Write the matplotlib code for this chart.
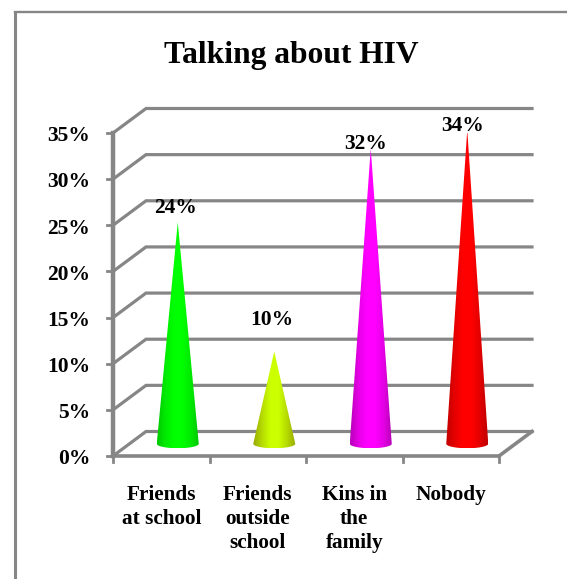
import numpy as np
import matplotlib
matplotlib.use("Agg")
import matplotlib.pyplot as plt
from matplotlib.patches import Polygon
from matplotlib.colors import LinearSegmentedColormap

categories = ["Friends\nat school", "Friends\noutside\nschool", "Kins in\nthe\nfamily", "Nobody"]
values = [24, 10, 32, 34]
value_labels = ["24%", "10%", "32%", "34%"]
yticks = [0, 5, 10, 15, 20, 25, 30, 35]
ytick_labels = ["0%", "5%", "10%", "15%", "20%", "25%", "30%", "35%"]
title = "Talking about HIV"
cone_shades = [("#00c800", "#00ff00", "#00ea00"),
               ("#98a800", "#ccff00", "#b4d800"),
               ("#b800b8", "#ff00ff", "#e400e4"),
               ("#c00000", "#ff0000", "#e40000")]

W, H = 567, 579
GREY = "#868686"
plt.rcParams["font.family"] = ["Liberation Serif"]
plt.rcParams["font.weight"] = "bold"
fig = plt.figure(figsize=(W / 100, H / 100), dpi=100)

bg = fig.add_axes([0, 0, 1, 1])
bg.set_xlim(0, W); bg.set_ylim(H, 0); bg.axis("off")
bg.plot([15, W], [12, 12], color=GREY, lw=1.7, clip_on=False)
bg.plot([15, 15], [11.4, H], color=GREY, lw=2.2, clip_on=False, solid_capstyle="butt")

# front plane of the 3D box: x 113..499, y 456..133 in pixels
ax = fig.add_axes([113 / W, 1 - 456 / H, 386 / W, 323 / H])
ax.patch.set_alpha(0)
ax.set_xlim(0, 4); ax.set_ylim(0, 35)
for s in ax.spines.values():
    s.set_visible(False)
ax.set_xticks([]); ax.set_yticks([])

dx, dy = 33 / (386 / 4), 24.5 / (323 / 35)   # depth offset in data units
lw = 2.3
for t in yticks:
    ax.plot([0, dx, 4 + dx], [t, t + dy, t + dy], color=GREY, lw=lw, clip_on=False,
            solid_joinstyle="miter", zorder=1)
ax.plot([0, 4], [0, 0], color=GREY, lw=2.6, clip_on=False, zorder=2)
ax.plot([4, 4 + dx], [0, dy], color=GREY, lw=2.6, clip_on=False, zorder=2)
ax.plot([0, 0], [0, 35], color=GREY, lw=3.2, clip_on=False, zorder=2, solid_capstyle="projecting")

for t, lab in zip(yticks, ytick_labels):
    ax.plot([-0.065, 0], [t, t], color=GREY, lw=2.0, clip_on=False, zorder=2)
    ax.text(-0.235, t - 0.35, lab, ha="right", va="center", fontsize=15.5, fontweight="bold",
            color="black", clip_on=False)
for i in range(5):
    ax.plot([i, i], [0, -0.65], color=GREY, lw=2.0, clip_on=False, zorder=2)
for i, c in enumerate(categories):
    ax.text(i + 0.5, -3.12, c, ha="center", va="top", fontsize=15.3, fontweight="bold",
            linespacing=1.27, color="black", clip_on=False)

half_w = 21 / (386 / 4)
ell_h = 4.5 / (323 / 35)
label_dx = [-0.02, -0.03, -0.05, -0.05]
label_dy = [1.55, 3.4, 0.5, 0.4]
for i, (v, lab, sh) in enumerate(zip(values, value_labels, cone_shades)):
    cx = i + 0.5 + dx / 2
    y0 = dy / 2
    top = y0 + v
    th = np.linspace(np.pi, 2 * np.pi, 40)
    xs = cx + half_w * np.cos(th)
    ys = y0 + ell_h * np.sin(th)
    verts = np.column_stack([np.r_[xs, cx], np.r_[ys, top]])
    cmap = LinearSegmentedColormap.from_list("c", [sh[0], sh[2], sh[1], sh[1], sh[2], sh[0]])
    im = ax.imshow(np.linspace(0, 1, 256)[None, :], cmap=cmap, aspect="auto",
                   extent=[cx - half_w, cx + half_w, y0 - ell_h, top], zorder=3,
                   interpolation="bilinear")
    poly = Polygon(verts, closed=True, transform=ax.transData, fc="none", ec="none")
    ax.add_patch(poly)
    im.set_clip_path(poly)
    ax.text(cx + label_dx[i], top + label_dy[i], lab, ha="center", va="center",
            fontsize=15.5, fontweight="bold", color="black", clip_on=False, zorder=4)
ax.set_xlim(0, 4); ax.set_ylim(0, 35)

bg.text(291, 55, title, ha="center", va="center", fontsize=22.7, fontweight="bold", color="black")
fig.savefig("out.png", dpi=100, facecolor="white")
